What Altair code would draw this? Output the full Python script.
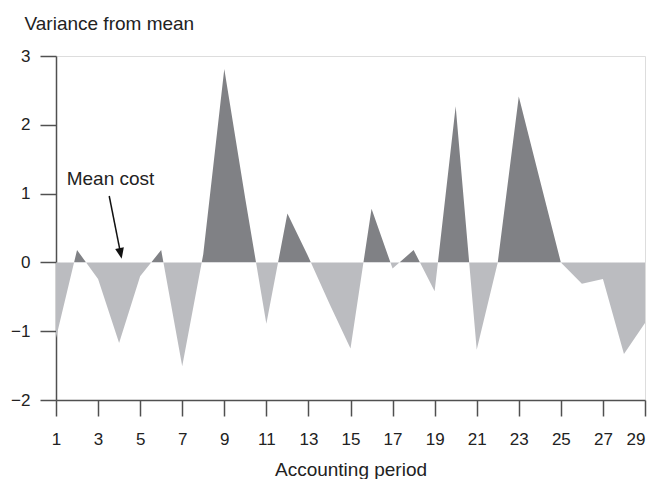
import altair as alt
import pandas as pd

# ---- data ----
periods = list(range(1, 30))
variance = [-1.10, 0.18, -0.24, -1.17, -0.20, 0.18, -1.51, 0.12, 2.81, 0.92,
            -0.89, 0.71, 0.08, -0.60, -1.25, 0.78, -0.09, 0.18, -0.42, 2.27,
            -1.27, 0.00, 2.41, 1.20, 0.00, -0.31, -0.24, -1.33, -0.88]
x_ticks = list(range(1, 30, 2))
y_ticks = [-2, -1, 0, 1, 2, 3]

# annotation (in data units)
note_text = ["Mean cost"]
note_x = [1.51]
note_y = [1.13]
arrow_x = [3.53]
arrow_y = [0.965]
arrow_x2 = [4.07]
arrow_y2 = [0.13]

DARK = "#808185"
LIGHT = "#bbbcc0"
AXIS = "#505050"
TEXT = "#222222"
FONT = "Liberation Sans"

df = pd.DataFrame({"period": periods, "variance": variance})
notes = pd.DataFrame({"x": note_x, "y": note_y, "t": note_text})
arrow = pd.DataFrame({"x": arrow_x, "y": arrow_y, "x2": arrow_x2, "y2": arrow_y2})

vmax, vmin = max(variance), min(variance)
zero_off = vmax / (vmax - vmin)

fill = alt.Gradient(
    gradient="linear", x1=0, x2=0, y1=0, y2=1,
    stops=[
        alt.GradientStop(color=DARK, offset=0),
        alt.GradientStop(color=DARK, offset=zero_off),
        alt.GradientStop(color=LIGHT, offset=zero_off),
        alt.GradientStop(color=LIGHT, offset=1),
    ],
)

xscale = alt.Scale(domain=[1, 29], nice=False, zero=False)
yscale = alt.Scale(domain=[-2, 3], nice=False, zero=False)

last_tick = x_ticks[-1]
xaxis = alt.Axis(
    values=x_ticks, title="Accounting period", grid=False, format="d",
    tickSize=16, tickWidth=1.5, tickColor=AXIS,
    domainColor=AXIS, domainWidth=1.5,
    labelFont=FONT, labelFontSize=17, labelColor=TEXT, labelPadding=15,
    labelFlush=False,
    labelAlign=alt.expr(f"datum.value == {last_tick} ? 'right' : 'center'"),
    titleFont=FONT, titleFontSize=19, titleFontWeight="normal", titleColor=TEXT,
    titleY=75, titleBaseline="alphabetic",
)
yaxis = alt.Axis(
    values=y_ticks, title="Variance from mean", grid=False, format="d",
    tickSize=16, tickWidth=1.5, tickColor=AXIS,
    domainColor=AXIS, domainWidth=1.5,
    labelFont=FONT, labelFontSize=17, labelColor=TEXT, labelPadding=10,
    labelFlush=False,
    titleFont=FONT, titleFontSize=19, titleFontWeight="normal", titleColor=TEXT,
    titleAngle=0, titleX=-32, titleY=-27, titleAlign="left",
    titleBaseline="alphabetic",
)

area = alt.Chart(df).mark_area(color=fill, interpolate="linear").encode(
    x=alt.X("period:Q", scale=xscale, axis=xaxis),
    y=alt.Y("variance:Q", scale=yscale, axis=yaxis),
    y2=alt.datum(0),
)

text = alt.Chart(notes).mark_text(
    align="left", baseline="alphabetic", font=FONT, fontSize=19, color=TEXT
).encode(x=alt.X("x:Q", scale=xscale), y=alt.Y("y:Q", scale=yscale), text="t:N")

rule = alt.Chart(arrow).mark_rule(color="#111111", strokeWidth=1.5).encode(
    x=alt.X("x:Q", scale=xscale), y=alt.Y("y:Q", scale=yscale),
    x2="x2:Q", y2="y2:Q",
)

head = alt.Chart(arrow).mark_point(
    shape="M-0.8,-1L0.8,-1L0,1Z", filled=True, color="#111111", opacity=1,
    size=121, angle=349,
).encode(x=alt.X("x2:Q", scale=xscale), y=alt.Y("y2:Q", scale=yscale))

chart = alt.layer(area, rule, head, text).properties(
    width=589, height=344,
    autosize=alt.AutoSizeParams(type="none"),
    padding={"left": 48, "top": 48, "right": 2, "bottom": 79},
).configure_view(
    stroke=AXIS, strokeWidth=2
).configure(background="white")

chart.save("out.html", embed_options={"renderer": "svg", "actions": False})
